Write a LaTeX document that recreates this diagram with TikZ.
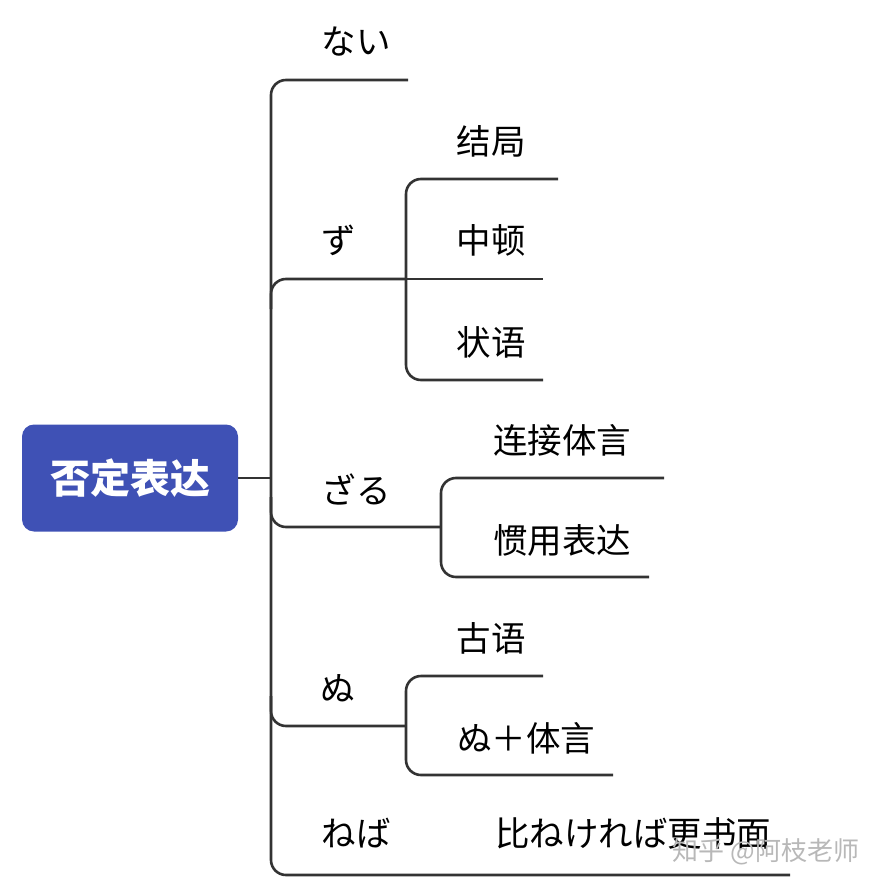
\documentclass[tikz,border=0pt]{standalone}
\usepackage{fontspec}
\usetikzlibrary{calc}
\newfontfamily\cjk{Noto Sans CJK SC}
\definecolor{rootblue}{HTML}{3F51B5}
\definecolor{linegray}{HTML}{333333}
\begin{document}
\begin{tikzpicture}[x=1pt,y=-1pt,
  ln/.style={draw=linegray, line width=2.6pt, rounded corners=15pt},
  lbl/.style={font=\cjk\fontsize{34.5}{40}\selectfont, text=black, inner sep=0pt},
  rootbox/.style={fill=rootblue, rounded corners=12pt, minimum width=216pt, minimum height=107pt, font=\cjk\bfseries\fontsize{40}{45}\selectfont, text=white, inner sep=0pt},
  wm/.style={font=\cjk\fontsize{26}{30}\selectfont, text=black!28, inner sep=0pt}]
\useasboundingbox (0,0) rectangle (884,890);
% root
\node[rootbox] (root) at (130,478) {否定表达};
% coordinates
\coordinate (mj) at (271,478);
\coordinate (top) at (271,80);
\coordinate (bot) at (271,875);
\coordinate (naiE) at (408,80);
\coordinate (zuM) at (271,279);
\coordinate (zuJ) at (406,279);
\coordinate (zuT) at (406,179);
\coordinate (zuB) at (406,380);
\coordinate (jjE) at (558,179);
\coordinate (zdE) at (543,279);
\coordinate (zyE) at (543,380);
\coordinate (zaM) at (271,527);
\coordinate (zaJ) at (441,527);
\coordinate (zaT) at (441,478);
\coordinate (zaB) at (441,577);
\coordinate (ljE) at (664,478);
\coordinate (gyE) at (649,577);
\coordinate (nuM) at (271,726);
\coordinate (nuJ) at (406,726);
\coordinate (nuT) at (406,676);
\coordinate (nuB) at (406,775);
\coordinate (gE) at (543,676);
\coordinate (ntE) at (613,775);
\coordinate (nbE) at (790,875);
% connectors
\draw[ln] (root.east) -- (mj);
\draw[ln] (naiE) -- (top) -- (bot) -- (nbE);
\draw[ln] ($(zuM)+(0,30)$) -- (zuM) -- (zuJ);
\draw[ln] (jjE) -- (zuT) -- (zuB) -- (zyE);
\draw[ln] (zuJ) -- (zdE);
\draw[ln] ($(zaM)+(0,-30)$) -- (zaM) -- (zaJ);
\draw[ln] (ljE) -- (zaT) -- (zaB) -- (gyE);
\draw[ln] ($(nuM)+(0,-30)$) -- (nuM) -- (nuJ);
\draw[ln] (gE) -- (nuT) -- (nuB) -- (ntE);
% labels
\node[lbl] (nai) at (356,42) {ない};
\node[lbl] (zu) at (339,240) {ず};
\node[lbl] (jj) at (491,141) {结局};
\node[lbl] (zd) at (491,240) {中顿};
\node[lbl] (zy) at (491,342) {状语};
\node[lbl] (zaru) at (356,489) {ざる};
\node[lbl] (lj) at (562,440) {连接体言};
\node[lbl] (gy) at (562,540) {惯用表达};
\node[lbl] (nu) at (338,688) {ぬ};
\node[lbl] (gu) at (491,638) {古语};
\node[lbl] (nt) at (526,738) {ぬ＋体言};
\node[lbl] (neba) at (356,833) {ねば};
\node[lbl] (hi) at (633,833) {比ねければ更书面};
\node[wm] (wmk) at (766,852) {知乎 @阿枝老师};
\end{tikzpicture}
\end{document}
